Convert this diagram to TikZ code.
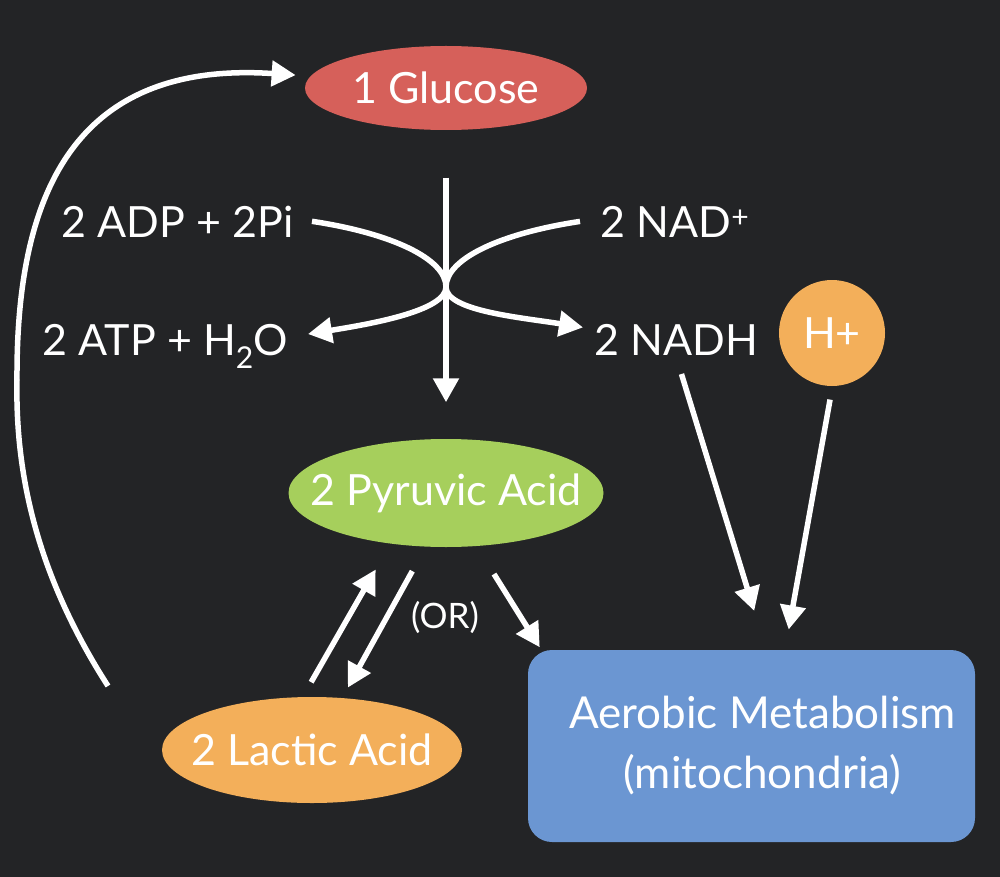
\documentclass[tikz,border=0pt]{standalone}
\usepackage{fontspec}
\setmainfont{Lato}
\usetikzlibrary{shapes.geometric}
\usetikzlibrary{arrows.meta}
\definecolor{bgdark}{HTML}{232426}
\definecolor{glured}{HTML}{D6605A}
\definecolor{pyrgreen}{HTML}{A6CF5C}
\definecolor{lacorange}{HTML}{F3AF5A}
\definecolor{mitoblue}{HTML}{6B96D2}

\begin{document}
\begin{tikzpicture}[x=1pt,y=-1pt,line width=5.5pt,font=\fontsize{43}{60}\selectfont]

	\tikzstyle{blob} = [ellipse,inner xsep=-40pt,inner ysep=0pt,text=white]
	\tikzstyle{chem} = [inner sep=0pt,text=white]
	\tikzstyle{flow} = [draw=white,-{Triangle[length=24pt,width=25pt]}]

	\fill[bgdark] (0,0) rectangle (1000,877);

	\node[blob,fill=glured,minimum width=282pt,minimum height=84pt] (glucose) at (446,88) {1 Glucose};
	\node[blob,fill=pyrgreen,minimum width=315pt,minimum height=108pt] (pyruvic) at (446,493) {2 Pyruvic Acid};
	\node[blob,fill=lacorange,minimum width=300pt,minimum height=106pt] (lactic) at (312,750) {2 Lactic Acid};
	\node[circle,fill=lacorange,text=white,minimum size=106pt,inner sep=0pt] (hplus) at (832,333) {H+};
	\node[fill=mitoblue,text=white,rounded corners=24pt,minimum width=447pt,minimum height=192pt,align=center,font=\fontsize{44}{60}\selectfont] (aerobic) at (751.5,746) {\hspace*{22pt}Aerobic Metabolism\\\hspace*{22pt}(mitochondria)};

	\node[chem,anchor=base east] (adp) at (296,237) {2 ADP + 2Pi};
	\node[chem,anchor=base east] (atp) at (291,355) {2 ATP + H\textsubscript{2}O};
	\node[chem,anchor=base west] (nad) at (598,237) {2 NAD\textsuperscript{+}};
	\node[chem,anchor=base west] (nadh) at (592,355) {2 NADH};
	\node[chem,font=\fontsize{35}{40}\selectfont] (or) at (445,617) {(OR)};

	\coordinate (mid) at (446,287);
	\coordinate (loopstart) at (108,686);

	% glucose down to pyruvate
	\draw[flow] ([yshift=-45pt]glucose.south) -- ([yshift=34pt]pyruvic.north);

	\draw[flow] ([xshift=16pt]adp.east) .. controls +(80,12) and +(0,-28) .. (mid)
		.. controls +(0,24) and +(62,-10) .. ([xshift=17pt,yshift=12pt]atp.east);
	\draw[flow] ([xshift=-18pt]nad.west) .. controls +(-80,12) and +(0,-28) .. (mid)
		.. controls +(0,24) and +(-62,-10) .. ([xshift=-9pt,yshift=12pt]nadh.west);

	\draw[flow,shorten <=14pt,shorten >=27pt] (lactic.98) -- (pyruvic.223);
	\draw[flow,shorten <=25pt,shorten >=9pt] (pyruvic.249) -- (lactic.60);
	\draw[flow,shorten <=30pt] (pyruvic.-60) -- (aerobic.155);

	\draw[flow,shorten <=17pt,shorten >=38pt] (nadh.south) -- (aerobic.82);
	\draw[flow,shorten <=11pt,shorten >=18pt] (hplus.south) -- (aerobic.71);

	\draw[flow,shorten >=12pt] (loopstart) .. controls (40,580) and (15,480) .. (17,380)
		.. controls (16,200) and (70,60) .. (glucose.175);
\end{tikzpicture}
\end{document}
